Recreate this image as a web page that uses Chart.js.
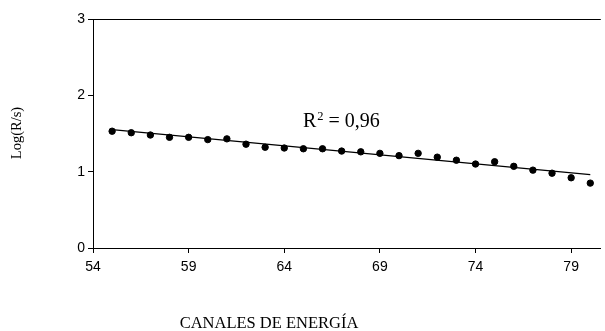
<!DOCTYPE html>
<html>
<head>
<meta charset="utf-8">
<script src="https://cdn.jsdelivr.net/npm/chart.js@4"></script>
<style>
  html, body { margin: 0; padding: 0; background: #fff; }
  #wrap { width: 605px; height: 331px; position: relative; }
</style>
</head>
<body>
<div id="wrap"><canvas id="grafico"></canvas></div>
<script>
// Datos
const canales  = [55, 56, 57, 58, 59, 60, 61, 62, 63, 64, 65, 66, 67,
                  68, 69, 70, 71, 72, 73, 74, 75, 76, 77, 78, 79, 80];
const logRs    = [1.53, 1.51, 1.48, 1.45, 1.45, 1.42, 1.43, 1.36, 1.32, 1.31, 1.30, 1.30, 1.27,
                  1.26, 1.24, 1.21, 1.24, 1.19, 1.15, 1.10, 1.13, 1.07, 1.02, 0.98, 0.92, 0.85];
const tendX    = [55, 80];
const tendY    = [1.55, 0.96];
const ticksX   = [54, 59, 64, 69, 74, 79];
const ticksY   = [0, 1, 2, 3];
const etiquetaR2 = "0,96";

const SERIF = "'Liberation Serif', 'Times New Roman', serif";

// Textos extra: títulos de ejes, R² y borde superior
const textos = {
  id: "textos",
  afterDraw(chart) {
    const { ctx, chartArea: a } = chart;
    ctx.save();
    ctx.strokeStyle = "#000";
    ctx.lineWidth = 1;
    ctx.beginPath();
    ctx.moveTo(a.left, a.top + 0.5);
    ctx.lineTo(a.right, a.top + 0.5);
    ctx.stroke();

    ctx.fillStyle = "#000";
    ctx.textAlign = "center";
    ctx.textBaseline = "alphabetic";
    ctx.font = "16.5px " + SERIF;
    ctx.fillText("CANALES DE ENERGÍA", 269, 328);

    ctx.textBaseline = "middle";
    ctx.font = "14.5px " + SERIF;
    ctx.translate(17, 133);
    ctx.rotate(-Math.PI / 2);
    ctx.fillText("Log(R/s)", 0, 0);
    ctx.restore();

    // R² = 0,96
    ctx.save();
    ctx.fillStyle = "#000";
    ctx.textBaseline = "alphabetic";
    ctx.font = "20px " + SERIF;
    let x = 303;
    ctx.fillText("R", x, 127);
    x += ctx.measureText("R").width;
    ctx.font = "12.5px " + SERIF;
    ctx.fillText("2", x + 1, 119.5);
    x += ctx.measureText("2").width + 1;
    ctx.font = "20px " + SERIF;
    ctx.fillText(" = " + etiquetaR2, x, 127);
    ctx.restore();
  }
};

new Chart(document.getElementById("grafico"), {
  type: "scatter",
  data: {
    datasets: [
      {
        label: "Log(R/s)",
        data: canales.map((c, i) => ({ x: c, y: logRs[i] })),
        backgroundColor: "#000",
        borderColor: "#000",
        pointRadius: 3.2,
        pointHoverRadius: 3.2
      },
      {
        type: "line",
        label: "Tendencia",
        data: tendX.map((c, i) => ({ x: c, y: tendY[i] })),
        borderColor: "#000",
        borderWidth: 1.3,
        pointRadius: 0,
        fill: false
      }
    ]
  },
  options: {
    responsive: true,
    maintainAspectRatio: false,
    animation: false,
    layout: { padding: { top: 19, right: 0, bottom: 0, left: 0 } },
    plugins: {
      legend: { display: false },
      tooltip: { enabled: false }
    },
    scales: {
      x: {
        type: "linear",
        min: 54,
        max: 80.55,
        afterBuildTicks: (s) => { s.ticks = ticksX.map(v => ({ value: v })); },
        afterFit: (s) => { s.height = 83; },
        grid: { drawOnChartArea: false, drawTicks: true, tickLength: 5, color: "#000" },
        border: { color: "#000", width: 1 },
        ticks: {
          color: "#000",
          padding: 6,
          maxRotation: 0,
          font: { family: "'Liberation Sans', Arial, sans-serif", size: 14 }
        }
      },
      y: {
        min: 0,
        max: 3,
        afterBuildTicks: (s) => { s.ticks = ticksY.map(v => ({ value: v })); },
        afterFit: (s) => { s.width = 93; },
        grid: { drawOnChartArea: false, drawTicks: true, tickLength: 5, color: "#000" },
        border: { color: "#000", width: 1 },
        ticks: {
          color: "#000",
          padding: 3,
          font: { family: "'Liberation Sans', Arial, sans-serif", size: 14 }
        }
      }
    }
  },
  plugins: [textos]
});
</script>
</body>
</html>
